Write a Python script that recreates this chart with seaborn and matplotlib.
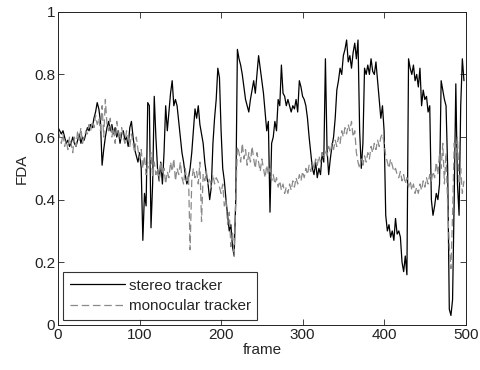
import numpy as np
import pandas as pd
import seaborn as sns
import matplotlib
matplotlib.use("Agg")
import matplotlib.pyplot as plt

# frame index (every 2nd frame)
frames = np.arange(0, 500, 2)

# stereo tracker FDA
stereo_fda = [
    0.63, 0.62, 0.61, 0.62, 0.60, 0.58, 0.59, 0.57, 0.58, 0.60,
    0.58, 0.57, 0.59, 0.61, 0.58, 0.60, 0.59, 0.61, 0.63, 0.62,
    0.64, 0.63, 0.66, 0.68, 0.71, 0.69, 0.65, 0.51, 0.56, 0.60,
    0.63, 0.65, 0.62, 0.64, 0.61, 0.63, 0.60, 0.62, 0.58, 0.61,
    0.62, 0.59, 0.60, 0.57, 0.63, 0.65, 0.60, 0.56, 0.54, 0.52,
    0.55, 0.50, 0.27, 0.42, 0.38, 0.71, 0.70, 0.31, 0.45, 0.73,
    0.60, 0.50, 0.46, 0.52, 0.45, 0.55, 0.70, 0.62, 0.68, 0.74,
    0.78, 0.70, 0.72, 0.70, 0.65, 0.60, 0.55, 0.52, 0.48, 0.45,
    0.47, 0.50, 0.55, 0.62, 0.69, 0.66, 0.70, 0.64, 0.61, 0.58,
    0.52, 0.48, 0.45, 0.40, 0.44, 0.58, 0.66, 0.72, 0.82, 0.79,
    0.62, 0.50, 0.46, 0.40, 0.35, 0.30, 0.32, 0.25, 0.22, 0.40,
    0.88, 0.85, 0.83, 0.80, 0.76, 0.72, 0.70, 0.68, 0.72, 0.75,
    0.78, 0.74, 0.80, 0.86, 0.82, 0.78, 0.74, 0.68, 0.62, 0.65,
    0.36, 0.58, 0.60, 0.65, 0.62, 0.72, 0.70, 0.83, 0.74, 0.73,
    0.70, 0.72, 0.70, 0.68, 0.70, 0.69, 0.72, 0.68, 0.78, 0.76,
    0.73, 0.72, 0.70, 0.66, 0.60, 0.55, 0.50, 0.48, 0.52, 0.47,
    0.50, 0.48, 0.55, 0.52, 0.85, 0.56, 0.48, 0.53, 0.57, 0.60,
    0.66, 0.75, 0.78, 0.82, 0.80, 0.86, 0.88, 0.91, 0.84, 0.86,
    0.82, 0.87, 0.90, 0.85, 0.91, 0.62, 0.50, 0.58, 0.82, 0.80,
    0.83, 0.80, 0.85, 0.81, 0.80, 0.84, 0.78, 0.72, 0.66, 0.70,
    0.62, 0.35, 0.30, 0.32, 0.28, 0.30, 0.27, 0.34, 0.29, 0.30,
    0.28, 0.20, 0.17, 0.22, 0.16, 0.85, 0.82, 0.80, 0.83, 0.78,
    0.80, 0.76, 0.82, 0.70, 0.75, 0.72, 0.73, 0.68, 0.70, 0.40,
    0.35, 0.38, 0.42, 0.40, 0.45, 0.78, 0.75, 0.72, 0.70, 0.50,
    0.05, 0.03, 0.08, 0.40, 0.77, 0.45, 0.35, 0.70, 0.85, 0.78,
]

# monocular tracker FDA
mono_fda = [
    0.62, 0.60, 0.58, 0.61, 0.57, 0.59, 0.56, 0.60, 0.58, 0.55,
    0.60, 0.57, 0.62, 0.59, 0.63, 0.58, 0.60, 0.62, 0.61, 0.64,
    0.62, 0.65, 0.63, 0.67, 0.64, 0.66, 0.62, 0.70, 0.60, 0.72,
    0.64, 0.62, 0.66, 0.60, 0.63, 0.58, 0.65, 0.61, 0.59, 0.63,
    0.60, 0.58, 0.62, 0.60, 0.57, 0.61, 0.58, 0.55, 0.60, 0.56,
    0.53, 0.56, 0.50, 0.54, 0.48, 0.52, 0.50, 0.55, 0.47, 0.52,
    0.48, 0.50, 0.46, 0.52, 0.48, 0.50, 0.45, 0.49, 0.47, 0.52,
    0.49, 0.53, 0.46, 0.50, 0.48, 0.52, 0.47, 0.45, 0.50, 0.46,
    0.48, 0.24, 0.46, 0.50, 0.47, 0.49, 0.45, 0.52, 0.33, 0.48,
    0.46, 0.49, 0.45, 0.47, 0.44, 0.48, 0.45, 0.47, 0.46, 0.44,
    0.42, 0.45, 0.38, 0.40, 0.32, 0.36, 0.25, 0.30, 0.22, 0.40,
    0.57, 0.55, 0.52, 0.58, 0.53, 0.56, 0.51, 0.55, 0.52, 0.57,
    0.53, 0.50, 0.55, 0.52, 0.49, 0.53, 0.50, 0.47, 0.51, 0.48,
    0.50, 0.46, 0.48, 0.45, 0.47, 0.44, 0.46, 0.43, 0.45, 0.42,
    0.44, 0.42, 0.45, 0.43, 0.46, 0.44, 0.47, 0.45, 0.48, 0.46,
    0.49, 0.47, 0.50, 0.48, 0.51, 0.49, 0.52, 0.50, 0.53, 0.51,
    0.54, 0.52, 0.55, 0.53, 0.56, 0.54, 0.57, 0.55, 0.58, 0.56,
    0.59, 0.57, 0.60, 0.58, 0.62, 0.60, 0.63, 0.61, 0.64, 0.62,
    0.65, 0.60, 0.62, 0.55, 0.52, 0.50, 0.53, 0.51, 0.54, 0.52,
    0.55, 0.53, 0.57, 0.55, 0.58, 0.56, 0.59, 0.57, 0.60, 0.61,
    0.58, 0.54, 0.52, 0.50, 0.53, 0.51, 0.49, 0.50, 0.48, 0.47,
    0.49, 0.46, 0.48, 0.45, 0.47, 0.44, 0.46, 0.43, 0.45, 0.42,
    0.44, 0.42, 0.45, 0.43, 0.46, 0.44, 0.47, 0.45, 0.48, 0.46,
    0.49, 0.47, 0.52, 0.48, 0.55, 0.50, 0.58, 0.45, 0.55, 0.38,
    0.25, 0.18, 0.35, 0.58, 0.55, 0.60, 0.45, 0.50, 0.42, 0.46,
]

x_ticks = [0, 100, 200, 300, 400, 500]
y_ticks = [0, 0.2, 0.4, 0.6, 0.8, 1]
y_tick_labels = ["0", "0.2", "0.4", "0.6", "0.8", "1"]

sns.set_style("ticks")
plt.rcParams["font.family"] = ["Liberation Sans", "DejaVu Sans"]
plt.rcParams["xtick.direction"] = "in"
plt.rcParams["ytick.direction"] = "in"

df = pd.DataFrame({"frame": frames, "stereo": stereo_fda, "mono": mono_fda})

fig = plt.figure(figsize=(4.8, 3.7), dpi=100)
ax = fig.add_axes([0.121, 0.122, 0.849, 0.846])

sns.lineplot(data=df, x="frame", y="stereo", ax=ax, color="black",
             linewidth=0.9, label="stereo tracker")
sns.lineplot(data=df, x="frame", y="mono", ax=ax, color="#8a8a8a",
             linewidth=0.9, dashes=False, label="monocular tracker")
ax.lines[1].set_dashes([6, 3])

ax.set_xlim(0, 500)
ax.set_ylim(0, 1)
ax.set_xticks(x_ticks)
ax.set_yticks(y_ticks)
ax.set_yticklabels(y_tick_labels)
ax.set_xlabel("frame", fontsize=11, labelpad=1)
ax.set_ylabel("FDA", fontsize=11, labelpad=4)
ax.tick_params(labelsize=11, length=4, width=0.6, top=True, right=True,
               colors="#222222", pad=2)
for s in ax.spines.values():
    s.set_linewidth(0.7)
    s.set_color("#222222")

leg = ax.legend(loc="lower left", fontsize=11, frameon=True, fancybox=False,
                edgecolor="black", borderaxespad=0.35, handlelength=3.6,
                borderpad=0.4, labelspacing=0.45, handletextpad=0.3)
leg.get_frame().set_linewidth(0.8)
leg.get_lines()[1].set_dashes([6, 3])

fig.savefig("out.png", dpi=100)
